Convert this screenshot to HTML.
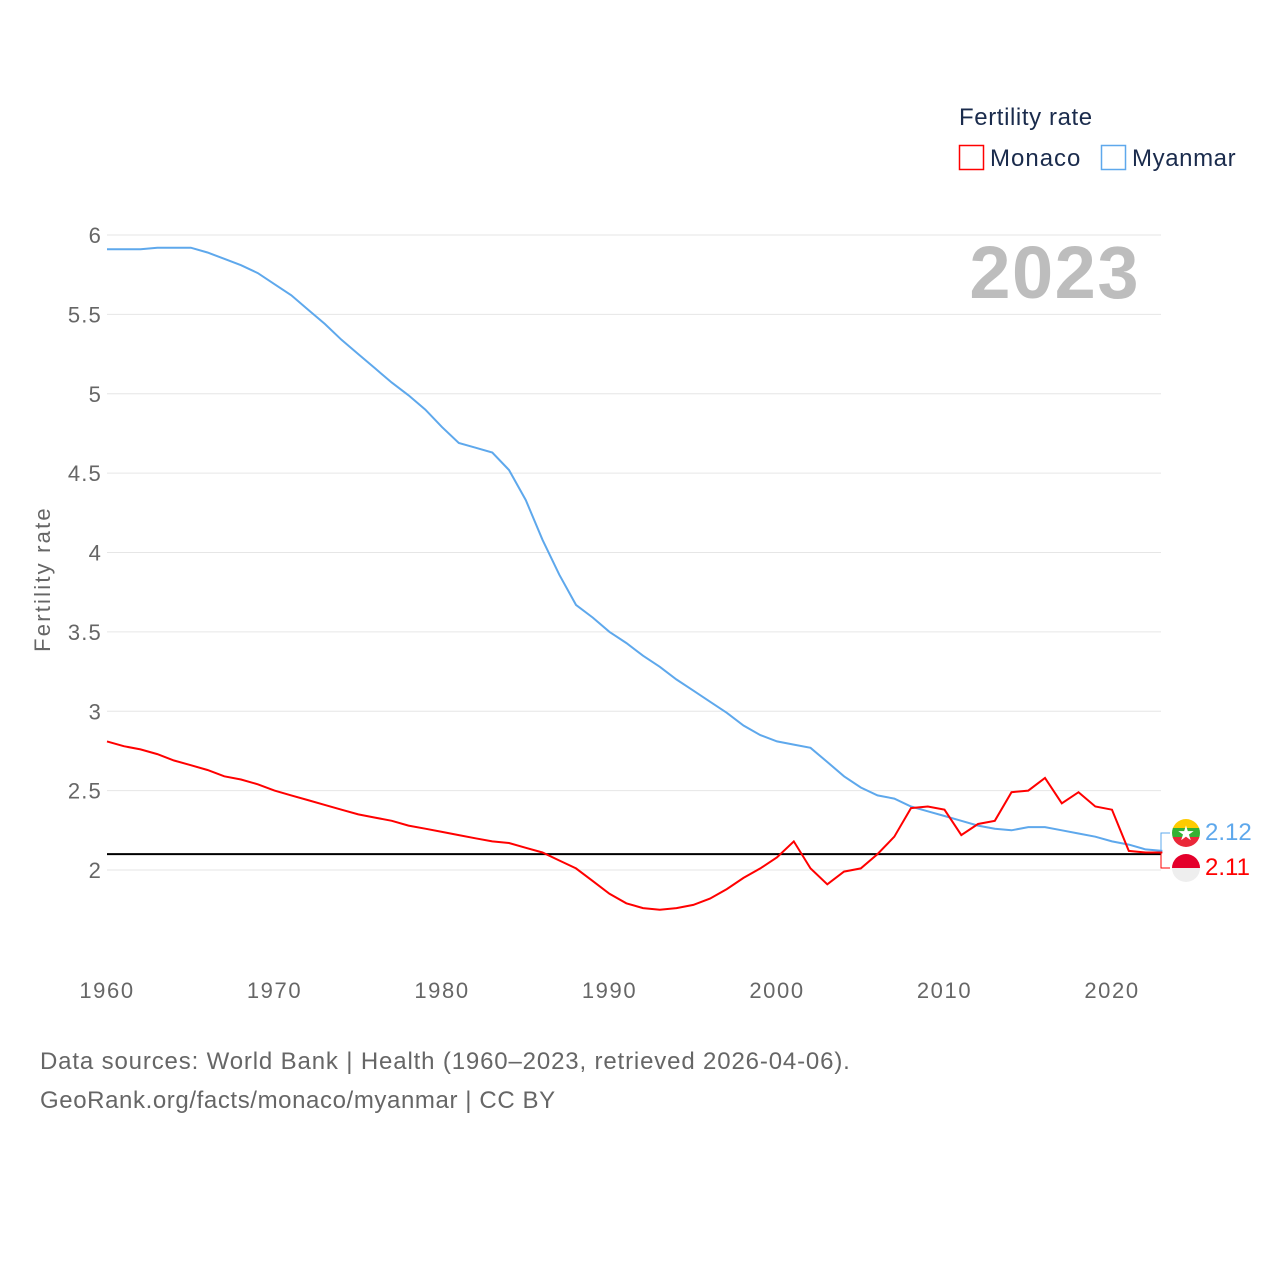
<!DOCTYPE html>
<html><head><meta charset="utf-8">
<style>
html,body{margin:0;padding:0;background:#fff;}
body{width:1280px;height:1280px;overflow:hidden;font-family:"Liberation Sans",sans-serif;}
</style></head>
<body>
<svg id="chart" width="1280" height="1280" xmlns="http://www.w3.org/2000/svg" font-family="Liberation Sans, sans-serif">
  <g id="grid"></g>
  <g id="yticks"></g>
  <g id="xticks"></g>
  <text x="50" y="579" transform="rotate(-90 50 579)" text-anchor="middle" font-size="22" letter-spacing="2.2" fill="#666">Fertility rate</text>
  <text x="1140" y="298" text-anchor="end" font-size="74" font-weight="bold" letter-spacing="1.5" fill="#bdbdbd">2023</text>
  <g id="series"></g>
  <g>
    <text x="959" y="125" font-size="24" letter-spacing="0.6" fill="#1a2b4c">Fertility rate</text>
    <g>
      <rect x="959.5" y="145.5" width="24" height="24" fill="none" stroke="#ff0000" stroke-width="1.5"/>
      <text x="990" y="166" font-size="24" letter-spacing="1" fill="#1a2b4c">Monaco</text>
    </g>
    <g>
      <rect x="1101.5" y="145.5" width="24" height="24" fill="none" stroke="#5ea8ec" stroke-width="1.5"/>
      <text x="1132" y="166" font-size="24" letter-spacing="0.6" fill="#1a2b4c">Myanmar</text>
    </g>
  </g>
  <g>
    <g>
      <clipPath id="c1"><circle cx="1186" cy="833" r="14"/></clipPath>
      <g clip-path="url(#c1)">
        <rect x="1172" y="819" width="28" height="10" fill="#fecb00"/>
        <rect x="1172" y="828" width="28" height="10" fill="#34b233"/>
        <rect x="1172" y="837" width="28" height="10" fill="#ea2839"/>
      </g>
      <text x="1186" y="840" text-anchor="middle" font-size="20" fill="#fff">★</text>
    </g>
    <g>
      <clipPath id="c2"><circle cx="1186" cy="868" r="14"/></clipPath>
      <g clip-path="url(#c2)">
        <rect x="1172" y="854" width="28" height="14" fill="#e4002b"/>
        <rect x="1172" y="868" width="28" height="14" fill="#eeeeee"/>
      </g>
    </g>
  </g>
  <text x="1205" y="840" font-size="24" fill="#5ea8ec">2.12</text>
  <text x="1205" y="875" font-size="24" fill="#ff0000">2.11</text>
  <text x="40" y="1069" font-size="24" letter-spacing="0.85" fill="#666">Data sources: World Bank | Health (1960–2023, retrieved 2026-04-06).</text>
  <text x="40" y="1108" font-size="24" letter-spacing="0.6" fill="#666">GeoRank.org/facts/monaco/myanmar | CC BY</text>
</svg>
<script>
const years = [];
for (let y = 1960; y <= 2023; y++) years.push(y);
const myanmar = [5.91,5.91,5.91,5.92,5.92,5.92,5.89,5.85,5.81,5.76,5.69,5.62,5.53,5.44,5.34,5.25,5.16,5.07,4.99,4.90,4.79,4.69,4.66,4.63,4.52,4.33,4.08,3.86,3.67,3.59,3.50,3.43,3.35,3.28,3.20,3.13,3.06,2.99,2.91,2.85,2.81,2.79,2.77,2.68,2.59,2.52,2.47,2.45,2.40,2.37,2.34,2.31,2.28,2.26,2.25,2.27,2.27,2.25,2.23,2.21,2.18,2.16,2.13,2.12];
const monaco = [2.81,2.78,2.76,2.73,2.69,2.66,2.63,2.59,2.57,2.54,2.50,2.47,2.44,2.41,2.38,2.35,2.33,2.31,2.28,2.26,2.24,2.22,2.20,2.18,2.17,2.14,2.11,2.06,2.01,1.93,1.85,1.79,1.76,1.75,1.76,1.78,1.82,1.88,1.95,2.01,2.08,2.18,2.01,1.91,1.99,2.01,2.10,2.21,2.39,2.40,2.38,2.22,2.29,2.31,2.49,2.50,2.58,2.42,2.49,2.40,2.38,2.12,2.11,2.11];
const yTicks = [2,2.5,3,3.5,4,4.5,5,5.5,6];
const xTicks = [1960,1970,1980,1990,2000,2010,2020];
const refLevel = 2.1;

const X0 = 107, PX_PER_YEAR = 16.75, Y0 = 870, PX_PER_UNIT = 158.75;
const xs = v => X0 + (v - 1960) * PX_PER_YEAR;
const ys = v => Y0 - (v - 2) * PX_PER_UNIT;
const NS = "http://www.w3.org/2000/svg";
function mk(tag, attrs, parent) {
  const e = document.createElementNS(NS, tag);
  for (const k in attrs) e.setAttribute(k, attrs[k]);
  parent.appendChild(e);
  return e;
}
const grid = document.getElementById('grid');
const yt = document.getElementById('yticks');
const xt = document.getElementById('xticks');
const ser = document.getElementById('series');

yTicks.forEach(v => {
  const l = mk('line', {x1: 107, x2: 1161, y1: ys(v), y2: ys(v), stroke: '#e6e6e6', 'stroke-width': 1}, grid);
  
  
  const t = mk('text', {x: 102, y: ys(v) + 8, 'text-anchor': 'end', 'font-size': 22, 'letter-spacing': 1.2, fill: '#666'}, yt);
  t.textContent = String(v);
  
  
});
xTicks.forEach(v => {
  const t = mk('text', {x: xs(v), y: 998, 'text-anchor': 'middle', 'font-size': 22, 'letter-spacing': 1.6, fill: '#666'}, xt);
  t.textContent = String(v);
  
  
});

const ref = mk('line', {x1: 107, x2: 1161, y1: ys(refLevel), y2: ys(refLevel), stroke: '#000', 'stroke-width': 2}, ser);



function path(vals) { return vals.map((v, i) => (i ? 'L' : 'M') + xs(years[i]).toFixed(1) + ' ' + ys(v).toFixed(1)).join(' '); }
const pm = mk('path', {d: path(myanmar), fill: 'none', stroke: '#5ea8ec', 'stroke-width': 2}, ser);


const pc = mk('path', {d: path(monaco), fill: 'none', stroke: '#ff0000', 'stroke-width': 2}, ser);



const lastX = xs(2023);
const c1 = mk('path', {d: `M${lastX} ${ys(myanmar[myanmar.length-1])} H1161 V833 H1170`, fill: 'none', stroke: '#5ea8ec', 'stroke-width': 1}, ser);


const c2 = mk('path', {d: `M${lastX} ${ys(monaco[monaco.length-1])} H1161 V868 H1170`, fill: 'none', stroke: '#ff0000', 'stroke-width': 1}, ser);


</script>
</body></html>
